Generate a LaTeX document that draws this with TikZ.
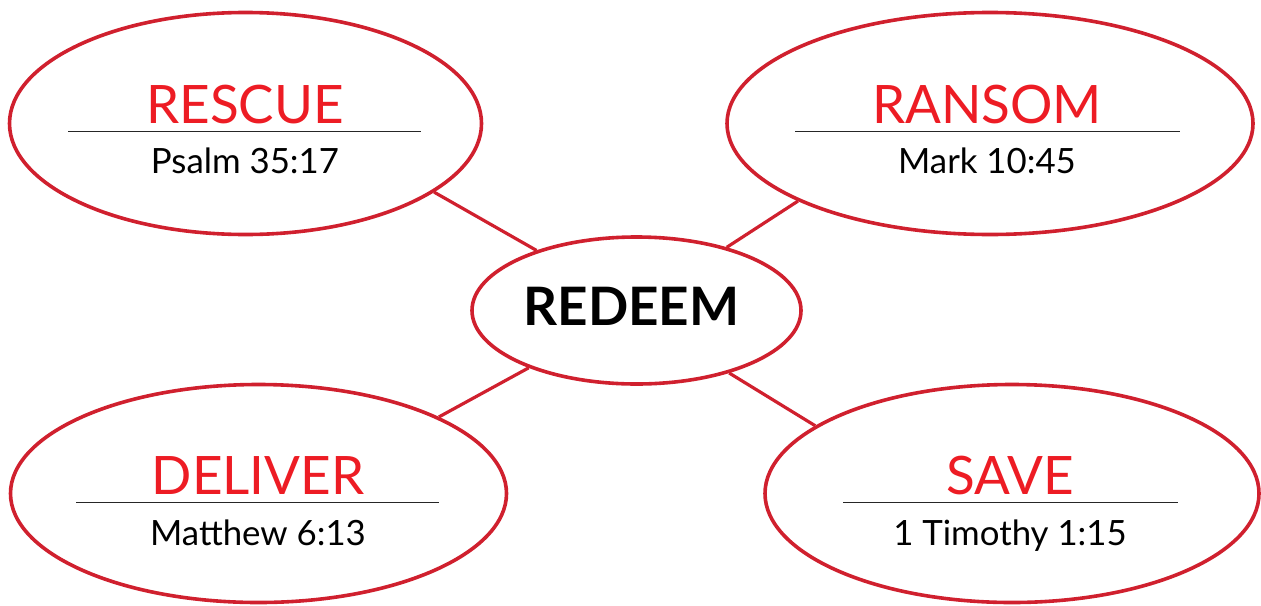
\documentclass[tikz,border=0pt]{standalone}
\usepackage{fontspec}
\setmainfont{Lato}
\usetikzlibrary{shapes.geometric,positioning}
\definecolor{ringred}{HTML}{D0202E}
\definecolor{wordred}{HTML}{ED1C24}

\begin{document}
\begin{tikzpicture}[x=0.5pt,y=-0.5pt,
    ring/.style={ellipse,draw=ringred,line width=1.8pt,inner sep=0pt},
    word/.style={text=wordred,font=\fontsize{26.5}{30}\selectfont,inner sep=0pt,anchor=base},
    verse/.style={font=\fontsize{17.4}{20}\selectfont,inner sep=0pt,anchor=base},
    rule/.style={draw=black!85,line width=0.5pt},
    link/.style={draw=ringred,line width=1.6pt}]
  \useasboundingbox (0,0) rectangle (1261,605);
  \node[ring,minimum width=236pt,minimum height=111pt] (rescue) at (245.5,123.5) {};
  \node[ring,minimum width=263pt,minimum height=111pt] (ransom) at (990,123.5) {};
  \node[ring,minimum width=164.5pt,minimum height=73.5pt] (redeem) at (636.5,310.5) {};
  \node[ring,minimum width=248pt,minimum height=109pt] (deliver) at (258.5,493.5) {};
  \node[ring,minimum width=247pt,minimum height=109pt] (save) at (1012,493.5) {};

  \node[font=\bfseries\fontsize{26.5}{30}\selectfont,inner sep=0pt,anchor=base] (redeem-word) at (631.5,325) {REDEEM};

  \node[word] (rescue-word) at (245,123) {RESCUE};
  \draw[rule] (68,131) -- (421,131);
  \node[verse] (rescue-verse) at (245,173) {Psalm 35:17};

  \node[word] (ransom-word) at (987,123) {RANSOM};
  \draw[rule] (795,131) -- (1180,131);
  \node[verse] (ransom-verse) at (987,173) {Mark 10:45};

  \node[word] (deliver-word) at (258,494) {DELIVER};
  \draw[rule] (76,502) -- (439,502);
  \node[verse] (deliver-verse) at (258,545) {Matthew 6:13};

  \node[word] (save-word) at (1010,494) {SAVE};
  \draw[rule] (843,502) -- (1178,502);
  \node[verse] (save-verse) at (1010,545) {1 Timothy 1:15};

  \draw[link] (redeem.149) -- (rescue.-20);
  \draw[link] (redeem.35) -- (ransom.202);
  \draw[link] (redeem.208) -- (deliver.23);
  \draw[link] (redeem.-34) -- (save.161);
\end{tikzpicture}
\end{document}
